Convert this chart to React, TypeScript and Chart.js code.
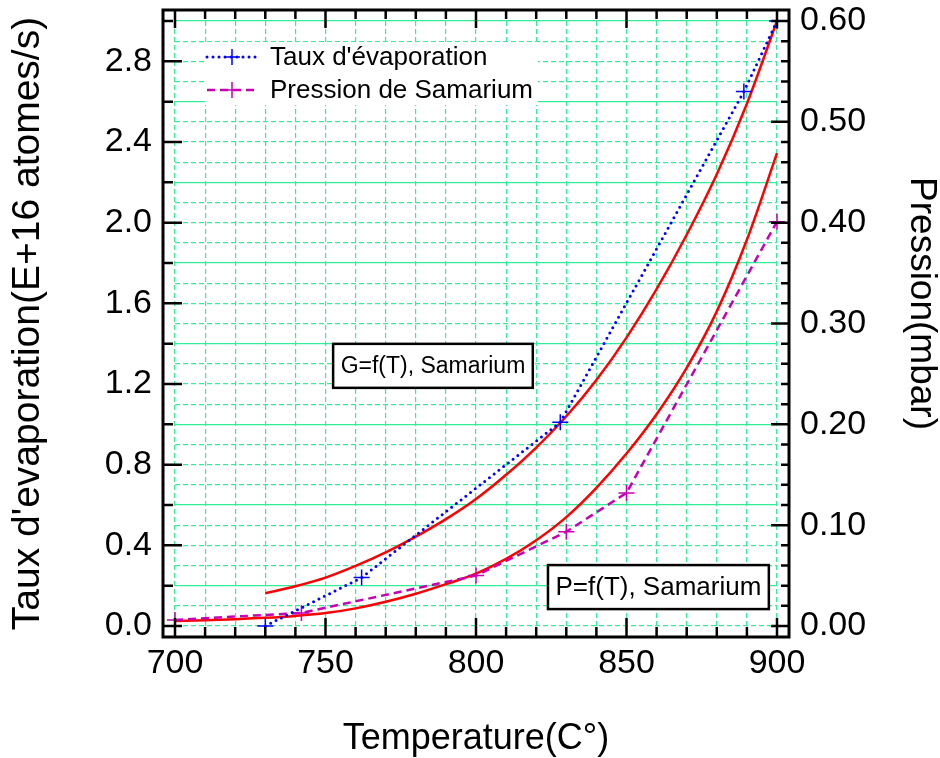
import React, { useEffect, useRef } from 'react';
import { Chart, registerables } from 'chart.js';

Chart.register(...registerables);

// ---- data ----
const evapTemps = [730, 762, 828, 889, 900];
const evapRates = [0.0, 0.24, 1.01, 2.65, 3.0];

const pressTemps = [700, 742, 800, 830, 850, 900];
const pressValues = [0.006, 0.013, 0.05, 0.0935, 0.132, 0.401];

const fitEvapTemps = [730, 740, 750, 760, 770, 780, 790, 800, 810, 820, 830, 840, 850, 860, 870, 880, 890, 900];
const fitEvapValues = [0.162, 0.197, 0.24, 0.298, 0.365, 0.443, 0.53, 0.63, 0.75, 0.885, 1.04, 1.22, 1.43, 1.67, 1.94, 2.24, 2.59, 3.0];

const fitPressTemps = [700, 710, 720, 730, 740, 750, 760, 770, 780, 790, 800, 810, 820, 830, 840, 850, 860, 870, 880, 890, 900];
const fitPressValues = [0.005, 0.0058, 0.0068, 0.0081, 0.01, 0.0128, 0.0175, 0.024, 0.032, 0.0415, 0.052, 0.0665, 0.085, 0.108, 0.137, 0.171, 0.21, 0.256, 0.312, 0.383, 0.469];

const seriesLabels = ["Taux d'évaporation", 'Pression de Samarium', 'G fit', 'P fit'];
const axisTitles = { x: 'Temperature(C°)', y: "Taux d'evaporation(E+16 atomes/s)", y1: 'Pression(mbar)' };
const noteTexts = ['G=f(T), Samarium', 'P=f(T), Samarium'];
const noteAnchorsT = [785.7, 860.6];
const noteAnchorsG = [1.29, 0.193];
const noteFontSizes = [23, 26];

const FONT = "'Liberation Sans', Arial, Helvetica, sans-serif";
const GRID = '#33EE99';
const BLUE = '#0000FF';
const PINK = '#C800B4';
const RED = '#FF0000';

const isMult = (v: number, step: number) => {
  const r = v / step;
  return Math.abs(r - Math.round(r)) < 1e-6;
};

const zip = (xs: number[], ys: number[]) => xs.map((x, i) => ({ x, y: ys[i] }));

const drawCross = (ctx: CanvasRenderingContext2D, x: number, y: number, r: number, color: string) => {
  ctx.save();
  ctx.setLineDash([]);
  ctx.strokeStyle = color;
  ctx.lineWidth = 1.5;
  ctx.beginPath();
  ctx.moveTo(x - r, y);
  ctx.lineTo(x + r, y);
  ctx.moveTo(x, y - r);
  ctx.lineTo(x, y + r);
  ctx.stroke();
  ctx.restore();
};

const decorPlugin = {
  id: 'decor',
  afterDatasetsDraw(chart: any) {
    const { ctx, chartArea: a, scales } = chart;
    ctx.save();
    ctx.fillStyle = '#FFFFFF';
    ctx.fillRect(a.left + 30, a.top + 21, 333, 63);
    [0, 1].forEach((di, k) => {
      const ds = chart.data.datasets[di];
      const cy = a.top + 36 + k * 33;
      const x0 = a.left + 32;
      const x1 = a.left + 82;
      ctx.save();
      ctx.strokeStyle = ds.borderColor;
      ctx.lineWidth = ds.borderWidth;
      ctx.lineCap = ds.borderCapStyle || 'butt';
      ctx.setLineDash(ds.borderDash || []);
      ctx.beginPath();
      ctx.moveTo(x0, cy);
      ctx.lineTo(x1, cy);
      ctx.stroke();
      ctx.restore();
      drawCross(ctx, (x0 + x1) / 2, cy, 8, ds.borderColor);
      ctx.fillStyle = '#000';
      ctx.font = `26px ${FONT}`;
      ctx.textBaseline = 'middle';
      ctx.textAlign = 'left';
      ctx.fillText(ds.label, a.left + 95, cy + 1);
    });
    noteTexts.forEach((t, i) => {
      const cx = scales.x.getPixelForValue(noteAnchorsT[i]);
      const cy = scales.y.getPixelForValue(noteAnchorsG[i]);
      ctx.font = `${noteFontSizes[i]}px ${FONT}`;
      const w = ctx.measureText(t).width + 15;
      const h = 44;
      ctx.fillStyle = '#FFFFFF';
      ctx.fillRect(cx - w / 2, cy - h / 2, w, h);
      ctx.strokeStyle = '#000';
      ctx.lineWidth = 2.5;
      ctx.setLineDash([]);
      ctx.strokeRect(cx - w / 2, cy - h / 2, w, h);
      ctx.fillStyle = '#000';
      ctx.textAlign = 'center';
      ctx.textBaseline = 'middle';
      ctx.fillText(t, cx, cy + 1);
    });
    ctx.restore();
  },
  afterDraw(chart: any) {
    const { ctx, chartArea: a, scales } = chart;
    const L = a.left - 12, R = a.right + 12, T = a.top - 11, B = a.bottom + 11;
    ctx.save();
    ctx.setLineDash([]);
    ctx.strokeStyle = '#000';
    ctx.lineWidth = 2.5;
    ctx.beginPath();
    scales.x.ticks.forEach((t: any) => {
      const px = scales.x.getPixelForValue(t.value);
      const major = isMult(t.value, 50);
      ctx.moveTo(px, B);
      ctx.lineTo(px, B - (major ? 19 : 10));
      ctx.moveTo(px, T);
      ctx.lineTo(px, T + (major ? 18 : 9));
    });
    scales.y.ticks.forEach((t: any) => {
      const py = scales.y.getPixelForValue(t.value);
      let len = 0;
      if (isMult(t.value, 0.4)) len = 19;
      else if (isMult(t.value, 0.2)) len = 10;
      if (len) {
        ctx.moveTo(L, py);
        ctx.lineTo(L + len, py);
      }
    });
    scales.y1.ticks.forEach((t: any) => {
      const py = scales.y1.getPixelForValue(t.value);
      const len = isMult(t.value, 0.1) ? 18 : 8;
      ctx.moveTo(R, py);
      ctx.lineTo(R - len, py);
    });
    ctx.stroke();
    ctx.lineWidth = 3;
    ctx.strokeRect(L, T, R - L, B - T);

    // right axis title (rotated, reading downward), slightly above axis centre as in the original
    const s1 = scales.y1;
    ctx.translate(s1.right - 19, (a.top + a.bottom) / 2 - 20);
    ctx.rotate(Math.PI / 2);
    ctx.fillStyle = '#000';
    ctx.font = `37px ${FONT}`;
    ctx.textAlign = 'center';
    ctx.textBaseline = 'middle';
    ctx.fillText(axisTitles.y1, 0, 0);
    ctx.restore();
  },
};

export default function App() {
  const ref = useRef<HTMLCanvasElement | null>(null);

  useEffect(() => {
    if (!ref.current) return;
    const tickFont = { family: FONT, size: 34 };
    const fitV = (w: number) => (s: any) => {
      s.width = w;
      s.paddingTop = 21;
      s.paddingBottom = 0;
    };
    const chart = new Chart(ref.current, {
      type: 'line',
      data: {
        datasets: [
          {
            label: seriesLabels[0],
            data: zip(evapTemps, evapRates),
            borderColor: BLUE,
            backgroundColor: BLUE,
            borderWidth: 3,
            borderDash: [0, 6],
            borderCapStyle: 'round',
            pointStyle: 'cross',
            pointRadius: 8,
            pointBorderWidth: 1.5,
            tension: 0,
            yAxisID: 'y',
            clip: false,
          } as any,
          {
            label: seriesLabels[1],
            data: zip(pressTemps, pressValues),
            borderColor: PINK,
            backgroundColor: PINK,
            borderWidth: 2.5,
            borderDash: [8, 5],
            pointStyle: 'cross',
            pointRadius: 8,
            pointBorderWidth: 1.5,
            tension: 0,
            yAxisID: 'y1',
            clip: false,
          } as any,
          {
            label: seriesLabels[2],
            data: zip(fitEvapTemps, fitEvapValues),
            borderColor: RED,
            borderWidth: 2.5,
            pointRadius: 0,
            cubicInterpolationMode: 'monotone',
            yAxisID: 'y',
            clip: false,
          } as any,
          {
            label: seriesLabels[3],
            data: zip(fitPressTemps, fitPressValues),
            borderColor: RED,
            borderWidth: 2.5,
            pointRadius: 0,
            cubicInterpolationMode: 'monotone',
            yAxisID: 'y1',
            clip: false,
          } as any,
        ],
      },
      options: {
        animation: false,
        responsive: true,
        maintainAspectRatio: false,
        events: [],
        layout: { padding: 0 },
        plugins: { legend: { display: false }, tooltip: { enabled: false } },
        scales: {
          x: {
            type: 'linear',
            min: 700,
            max: 900,
            afterFit: (s: any) => {
              s.height = 132;
              s.paddingLeft = 0;
              s.paddingRight = 0;
            },
            ticks: {
              stepSize: 10,
              autoSkip: false,
              maxRotation: 0,
              padding: 17,
              color: '#000',
              font: tickFont,
              callback: (v: any) => (isMult(Number(v), 50) ? String(Math.round(Number(v))) : ''),
            },
            grid: { color: GRID, lineWidth: 1.2, drawTicks: false },
            border: { display: false, dash: [5, 3] },
            title: {
              display: true, text: axisTitles.x, color: '#000',
              font: { family: FONT, size: 36, lineHeight: 1 }, padding: { top: 0, bottom: 1 },
            },
          },
          y: {
            type: 'linear',
            position: 'left',
            min: 0,
            max: 3,
            afterFit: fitV(175),
            ticks: {
              stepSize: 0.1,
              autoSkip: false,
              padding: 23,
              color: '#000',
              font: tickFont,
              callback: (v: any) => (isMult(Number(v), 0.4) ? Number(v).toFixed(1) : ''),
            },
            grid: { color: GRID, lineWidth: 1.2, drawTicks: false },
            border: {
              display: false,
              dash: (c: any) => (c.tick && isMult(c.tick.value - 0.2, 0.4) ? [] : [5, 3]),
            },
            title: {
              display: true, text: axisTitles.y, color: '#000',
              font: { family: FONT, size: 39, lineHeight: 1 }, padding: { top: 9, bottom: 0 },
            },
          },
          y1: {
            type: 'linear',
            position: 'right',
            min: 0,
            max: 0.6,
            afterFit: fitV(163),
            ticks: {
              stepSize: 0.02,
              autoSkip: false,
              padding: 23,
              color: '#000',
              font: tickFont,
              callback: (v: any) => (isMult(Number(v), 0.1) ? Number(v).toFixed(2) : ''),
            },
            grid: { display: false, drawTicks: false },
            border: { display: false },
            title: { display: false, text: axisTitles.y1 },
          },
        },
      } as any,
      plugins: [decorPlugin],
    });
    return () => chart.destroy();
  }, []);

  return (
    <div style={{ position: 'fixed', left: 0, top: 0, width: 940, height: 758, background: '#fff' }}>
      <canvas ref={ref} />
    </div>
  );
}
